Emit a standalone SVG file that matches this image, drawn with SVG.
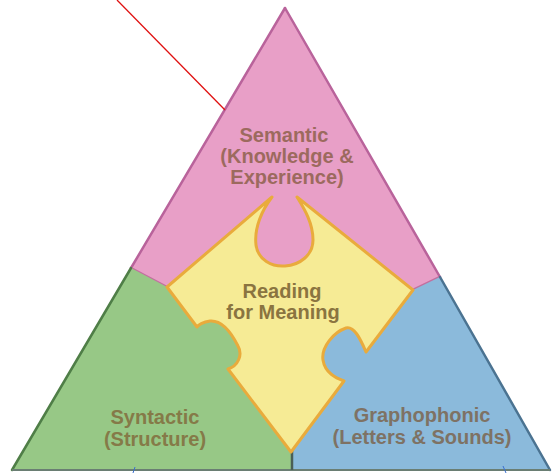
<svg xmlns="http://www.w3.org/2000/svg" width="553" height="473" viewBox="0 0 553 473">
  <style>
    .lbl { font-family: "Liberation Sans", Arial, sans-serif; font-weight: bold; font-size: 20px; text-anchor: middle; }
    .edge { fill: none; stroke-width: 2.5; stroke-linecap: round; }
  </style>
  <rect width="553" height="473" fill="#ffffff"/>
  <g id="node-semantic">
    <polygon points="285,8 131,268 170,292 290,300 413,292 440,277" fill="#e89fc7"/>
    <line class="edge" x1="285" y1="8" x2="131" y2="268" stroke="#b9639b"/>
    <line class="edge" x1="285" y1="8" x2="440" y2="277" stroke="#b9639b"/>
    <line class="edge" x1="131" y1="268" x2="167" y2="287" stroke="#c2709f" stroke-width="2"/>
    <line class="edge" x1="440" y1="277" x2="413" y2="290" stroke="#c2709f" stroke-width="2"/>
    <text class="lbl" x="284" y="142" fill="#9c6a5e">Semantic</text>
    <text class="lbl" x="287" y="163" fill="#9c6a5e">(Knowledge &amp;</text>
    <text class="lbl" x="287" y="184" fill="#9c6a5e">Experience)</text>
  </g>
  <g id="node-syntactic">
    <polygon points="131,268 12,470 292,470 292,452 255,385 255,315 167,287" fill="#97c886"/>
    <line class="edge" x1="131" y1="268" x2="12" y2="470" stroke="#4f7e47"/>
    <text class="lbl" x="155" y="424" fill="#857a48">Syntactic</text>
    <text class="lbl" x="155" y="446" fill="#857a48">(Structure)</text>
  </g>
  <g id="node-graphophonic">
    <polygon points="440,277 550,470 292,470 292,452 315,390 315,320 413,290" fill="#8bbadb"/>
    <line class="edge" x1="440" y1="277" x2="550" y2="470" stroke="#4b7391"/>
    <text class="lbl" x="422" y="422" fill="#7e7264">Graphophonic</text>
    <text class="lbl" x="422" y="444" fill="#7e7264">(Letters &amp; Sounds)</text>
  </g>
  <g id="base">
    <line x1="12" y1="470" x2="550" y2="470" stroke="#6a7e73" stroke-width="2"/>
    <line x1="292" y1="451" x2="292" y2="470" stroke="#4a5f55" stroke-width="2.5"/>
  </g>
  <g id="node-reading">
    <path d="M167,287 L272,197 C262,210 254,228 256,245 C258,260 272,267 285,266 C300,265 313,255 313,240 C313,222 303,207 297,197 L413,290 L366,352 C360,338 354,326 346,328 C334,332 321,347 323,360 C325,373 336,378 344,381 L291,452 L228,369 C238,366 243,355 238,346 C232,334 222,320 210,321 C203,322 198,325 197,327 Z" fill="#f6eb95" stroke="#e9ab3c" stroke-width="3" stroke-linejoin="round"/>
    <text class="lbl" x="282" y="298" fill="#8a7440">Reading</text>
    <text class="lbl" x="283" y="319" fill="#8a7440">for Meaning</text>
  </g>
  <g id="connectors">
    <line x1="117" y1="0" x2="225" y2="110" stroke="#e01010" stroke-width="1.3"/>
    <line x1="135" y1="467" x2="133" y2="473" stroke="#3a6fd0" stroke-width="1"/>
    <line x1="503" y1="466" x2="506" y2="473" stroke="#3a6fd0" stroke-width="1"/>
  </g>
</svg>
